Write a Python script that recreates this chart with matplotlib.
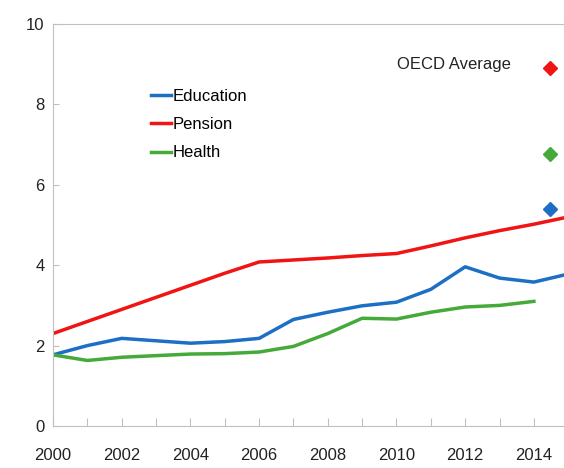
import matplotlib.pyplot as plt

plt.rcParams['font.family'] = ['Liberation Sans', 'DejaVu Sans']

# data
years = list(range(2000, 2016))
education = [1.77, 2.0, 2.18, 2.12, 2.06, 2.1, 2.18, 2.65, 2.83, 2.99, 3.08, 3.4, 3.96, 3.68, 3.58, 3.78]
pension = [2.3, 2.6, 2.9, 3.2, 3.5, 3.8, 4.08, 4.13, 4.18, 4.24, 4.29, 4.48, 4.68, 4.86, 5.02, 5.2]
health_years = list(range(2000, 2015))
health = [1.77, 1.63, 1.71, 1.75, 1.79, 1.8, 1.84, 1.98, 2.3, 2.68, 2.66, 2.83, 2.96, 3.0, 3.1]

oecd_x = 2014.46
oecd_vals = {'Pension': 8.9, 'Health': 6.77, 'Education': 5.4}

colors = {'Education': '#1c6fc4', 'Pension': '#f01414', 'Health': '#46aa3a'}

fig = plt.figure(figsize=(5.64, 4.68), dpi=100)
ax = fig.add_axes([53/564, 42/468, 0.944, 402/468])

ax.plot(years, education, color=colors['Education'], lw=2.5, label='Education')
ax.plot(years, pension, color=colors['Pension'], lw=2.5, label='Pension')
ax.plot(health_years, health, color=colors['Health'], lw=2.5, label='Health')

for k, v in oecd_vals.items():
    ax.plot(oecd_x, v, marker='D', ms=7, color=colors[k], ls='none')
ax.text(2013.33, 9.0, 'OECD Average', fontsize=12, color='#222222', ha='right', va='center')

ax.set_xlim(2000, 2015.5)
ax.set_ylim(0, 10)
ax.set_xticks(range(2000, 2016))
ax.set_xticklabels([str(y) if y % 2 == 0 else '' for y in range(2000, 2016)])
ax.set_yticks(range(0, 11, 2))

for s in ax.spines.values():
    s.set_color('#c0c0c0')
ax.tick_params(axis='x', direction='in', length=6, color='#c0c0c0', pad=16, labelsize=12, labelcolor='#222222')
ax.tick_params(axis='y', direction='in', length=4, color='#c0c0c0', pad=6, labelsize=12, labelcolor='#222222')

ax.legend(loc='center left', bbox_to_anchor=(0.155, 0.75), frameon=False, fontsize=12,
          handlelength=1.2, handletextpad=0.15, labelspacing=0.8)

fig.savefig('out.png', dpi=100)
